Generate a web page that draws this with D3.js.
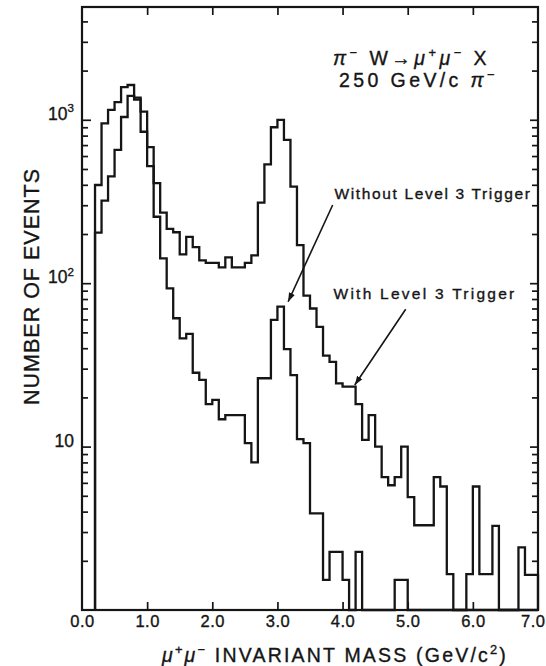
<!DOCTYPE html>
<html>
<head>
<meta charset="utf-8">
<script src="https://cdn.jsdelivr.net/npm/d3@7"></script>
<style>
  html, body { margin: 0; padding: 0; background: #fff; }
  svg { display: block; }
  text { stroke: #151515; stroke-width: 0.35px; }
</style>
</head>
<body>
<svg id="chart"></svg>
<script>
'use strict';

const WIDTH = 546;
const HEIGHT = 666;
const MARGIN = {top: 7, right: 8, bottom: 56, left: 82};
const FONT = "'Liberation Sans', Arial, sans-serif";
const INK = "#151515";

// lower edges of the 0.1 GeV mass bins, plus the final upper edge
const massEdges = [0.2, 0.3, 0.4, 0.5, 0.6, 0.7, 0.8, 0.9, 1.0,
    1.1, 1.2, 1.3, 1.4, 1.5, 1.6, 1.7, 1.8, 1.9, 2.0,
    2.1, 2.2, 2.3, 2.4, 2.5, 2.6, 2.7, 2.8, 2.9, 3.0,
    3.1, 3.2, 3.3, 3.4, 3.5, 3.6, 3.7, 3.8, 3.9, 4.0,
    4.1, 4.2, 4.3, 4.4, 4.5, 4.6, 4.7, 4.8, 4.9, 5.0,
    5.1, 5.2, 5.3, 5.4, 5.5, 5.6, 5.7, 5.8, 5.9, 6.0,
    6.1, 6.2, 6.3, 6.4, 6.5, 6.6, 6.7, 6.8, 6.9, 7.0];

// events per bin (upper histogram)
const withTrigger = [399, 951, 1150, 1283, 1583, 1633, 1368, 1122,
    521, 410, 270, 215, 205, 150, 192, 166, 138, 133,
    133, 125, 144, 125, 125, 133, 148, 311, 534, 900,
    998, 754, 390, 171, 84, 70, 54, 36, 33, 24.4,
    23.3, 23.3, 18.2, 11, 15.6, 10, 6.5, 5.8, 6.5, 10,
    4.9, 3.3, 3.3, 3.3, 6.5, 5.7, 1.66, 0, 0, 1.66,
    5.7, 1.66, 1.66, 3.27, 0, 0, 0, 2.42, 1.64, 1.64];

// events per bin (lower histogram)
const withoutTrigger = [204, 320, 450, 655, 1040, 1400, 1330, 845,
    680, 255, 142, 93, 61, 46, 49, 28.3, 25.6, 18.2,
    19.3, 14.7, 15.6, 15.6, 15.6, 10.5, 8.0, 26.2, 26.2, 59.6,
    71.8, 39.5, 27.4, 11.1, 10.5, 3.9, 3.9, 1.53, 2.27, 2.27,
    1.53, 0, 2.27, 0, 0, 0, 0, 0, 1.53, 1.53,
    0, 0, 0, 0, 0, 0, 0, 0, 0, 0,
    0, 0, 0, 0, 0, 0, 0, 0, 0, 0];

const xTicks = [0, 1, 2, 3, 4, 5, 6, 7];
const xInnerTicks = [1, 2, 3, 4, 5, 6];
const yMajorTicks = [10, 100, 1000];
const yMinorTicks = [2, 3, 4, 5, 6, 7, 8, 9, 20, 30, 40, 50, 60, 70, 80, 90,
    200, 300, 400, 500, 600, 700, 800, 900, 2000, 3000, 4000];
const yLabels = [
    {value: 10, base: "10", exp: ""},
    {value: 100, base: "10", exp: "2"},
    {value: 1000, base: "10", exp: "3"}
];

const svg = d3.select("svg#chart")
              .attr("width", WIDTH)
              .attr("height", HEIGHT)
              .attr("font-family", FONT);

const xScale = d3.scaleLinear()
                 .domain([0, 7])
                 .range([MARGIN.left, WIDTH - MARGIN.right]);
const yScale = d3.scaleLog()
                 .domain([1, 4900])
                 .range([HEIGHT - MARGIN.bottom, MARGIN.top]);

const yOf = v => v > 1 ? yScale(v) : yScale(1);

// text made of normal and superscript runs
const richText = (text, runs, fs) => {
    let shift = 0;
    runs.forEach(r => {
        const target = r.sup ? -fs * 0.42 : 0;
        text.append("tspan")
            .attr("dy", target - shift)
            .attr("font-size", r.sup ? fs * 0.66 : fs)
            .attr("font-style", r.italic ? "italic" : null)
            .text(r.t);
        shift = target;
    });
    return text;
};

// stretch letter spacing so the text spans the given width
const fitWidth = (text, width) => {
    const node = text.node();
    const w = node.getComputedTextLength();
    const n = node.getNumberOfChars();
    text.attr("letter-spacing", (width - w) / n);
};

// axes, ticks pointing inward
const drawAxis = (axis, transform) => {
    const g = svg.append("g")
                 .attr("transform", transform)
                 .call(axis);
    g.select(".domain").remove();
    g.selectAll(".tick line").attr("stroke", INK).attr("stroke-width", 1.7);
    return g;
};

const plotBottom = HEIGHT - MARGIN.bottom;
const plotRight = WIDTH - MARGIN.right;

const xAxis = drawAxis(d3.axisBottom(xScale)
                         .tickValues(xTicks)
                         .tickSize(-8)
                         .tickPadding(5)
                         .tickFormat(d3.format(".1f")),
                       "translate(0," + plotBottom + ")");
xAxis.selectAll(".tick text")
     .attr("font-family", FONT)
     .attr("font-size", 16.5)
     .attr("fill", INK)
     .attr("letter-spacing", 0.5);
xAxis.selectAll(".tick").filter(d => d == 0 || d == 7).select("line").remove();
// last label sits at the page edge; keep it inside
xAxis.selectAll(".tick").filter(d => d == 7).select("text")
     .attr("text-anchor", "end")
     .attr("x", WIDTH - plotRight - 1);

drawAxis(d3.axisTop(xScale).tickValues(xInnerTicks).tickSize(-8).tickFormat(""),
         "translate(0," + MARGIN.top + ")");

drawAxis(d3.axisLeft(yScale).tickValues(yMajorTicks).tickSize(-9).tickFormat(""),
         "translate(" + MARGIN.left + ",0)");
drawAxis(d3.axisLeft(yScale).tickValues(yMinorTicks).tickSize(-6).tickFormat(""),
         "translate(" + MARGIN.left + ",0)");
drawAxis(d3.axisRight(yScale).tickValues(yMajorTicks).tickSize(-8).tickFormat(""),
         "translate(" + plotRight + ",0)");
drawAxis(d3.axisRight(yScale).tickValues(yMinorTicks).tickSize(-6).tickFormat(""),
         "translate(" + plotRight + ",0)");

// frame
svg.append("rect")
   .attr("x", MARGIN.left)
   .attr("y", MARGIN.top)
   .attr("width", plotRight - MARGIN.left)
   .attr("height", plotBottom - MARGIN.top)
   .attr("fill", "none")
   .attr("stroke", INK)
   .attr("stroke-width", 2.2);

// y tick labels
yLabels.forEach(d => {
    const t = svg.append("text")
                 .attr("x", MARGIN.left - 8)
                 .attr("y", yScale(d.value))
                 .attr("dy", "0.36em")
                 .attr("text-anchor", "end")
                 .attr("fill", INK);
    const runs = [{t: d.base}];
    if (d.exp) runs.push({t: d.exp, sup: true});
    richText(t, runs, 17.5);
});

// histograms
const stepPoints = values => {
    const pts = [{m: massEdges[0], v: 0}];
    values.forEach((v, i) => pts.push({m: massEdges[i], v: v}));
    pts.push({m: massEdges[massEdges.length - 1], v: values[values.length - 1]});
    pts.push({m: massEdges[massEdges.length - 1], v: 0});
    return pts;
};

const line = d3.line()
               .x(d => xScale(d.m))
               .y(d => yOf(d.v))
               .curve(d3.curveStepAfter);

[withoutTrigger, withTrigger].forEach(series => {
    svg.append("path")
       .datum(stepPoints(series))
       .attr("fill", "none")
       .attr("stroke", INK)
       .attr("stroke-width", 2.3)
       .attr("stroke-linejoin", "miter")
       .attr("d", line);
});

// axis titles
const xTitle = svg.append("text")
                  .attr("x", 162)
                  .attr("y", 662)
                  .attr("fill", INK);
richText(xTitle, [{t: "\u03bc", italic: true}, {t: "+", sup: true},
                  {t: "\u03bc", italic: true}, {t: "\u2212", sup: true},
                  {t: " INVARIANT MASS (GeV/c"}, {t: "2", sup: true}, {t: ")"}], 19.5);
fitWidth(xTitle, 346);

const yTitle = svg.append("text")
                  .attr("transform", "translate(38.5,286.5) rotate(-90)")
                  .attr("text-anchor", "middle")
                  .attr("font-size", 21.5)
                  .attr("fill", INK)
                  .text("NUMBER OF EVENTS");
fitWidth(yTitle, 237);

// reaction label
const reaction = svg.append("text").attr("x", 333).attr("y", 65).attr("fill", INK);
richText(reaction, [{t: "\u03c0", italic: true}, {t: "\u2212", sup: true},
                    {t: " W\u2192"}, {t: "\u03bc", italic: true}, {t: "+", sup: true},
                    {t: "\u03bc", italic: true}, {t: "\u2212", sup: true}, {t: " X"}], 19.5);
fitWidth(reaction, 157);

const beam = svg.append("text").attr("x", 339).attr("y", 87).attr("fill", INK);
richText(beam, [{t: "250 GeV/c "}, {t: "\u03c0", italic: true}, {t: "\u2212", sup: true}], 19.5);
fitWidth(beam, 159);

// trigger labels and arrows
const notes = [
    {text: "Without Level 3 Trigger", x: 334.5, y: 199, width: 197,
     from: {m: 3.848, v: 301}, to: {m: 3.164, v: 77}},
    {text: "With Level 3 Trigger", x: 333.5, y: 298.5, width: 183,
     from: {m: 4.969, v: 69.2}, to: {m: 4.187, v: 23.8}}
];

svg.append("defs").append("marker")
   .attr("id", "head")
   .attr("viewBox", "0 0 10 10")
   .attr("refX", 10)
   .attr("refY", 5)
   .attr("markerWidth", 9)
   .attr("markerHeight", 9)
   .attr("markerUnits", "userSpaceOnUse")
   .attr("orient", "auto")
   .append("path")
   .attr("d", "M0,1.5 L10,5 L0,8.5 Z")
   .attr("fill", INK);

notes.forEach(n => {
    const t = svg.append("text")
                 .attr("x", n.x)
                 .attr("y", n.y)
                 .attr("font-size", 15.5)
                 .attr("fill", INK)
                 .text(n.text);
    fitWidth(t, n.width);

    svg.append("line")
       .attr("x1", xScale(n.from.m))
       .attr("y1", yScale(n.from.v))
       .attr("x2", xScale(n.to.m))
       .attr("y2", yScale(n.to.v))
       .attr("stroke", INK)
       .attr("stroke-width", 1.6)
       .attr("marker-end", "url(#head)");
});
</script>
</body>
</html>
